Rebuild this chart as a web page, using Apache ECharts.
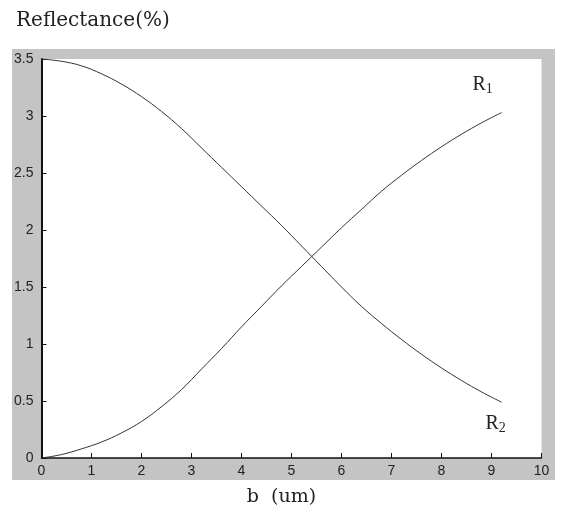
<!DOCTYPE html>
<html>
<head>
<meta charset="utf-8">
<script src="https://cdn.jsdelivr.net/npm/echarts@6/dist/echarts.min.js"></script>
<style>
  html, body { margin: 0; padding: 0; background: #fff; }
  #chart { width: 563px; height: 512px; }
</style>
</head>
<body>
<div id="chart"></div>
<script>
// b (um) sample positions
var bValues = [0, 0.4, 0.8, 1.2, 1.6, 2.0, 2.4, 2.8, 3.2, 3.6, 4.0, 4.4, 4.8,
	5.2, 5.6, 6.0, 6.4, 6.8, 7.2, 7.6, 8.0, 8.4, 8.8, 9.2];

// rising curve (labelled R1 at its end)
var risingR = [0.00, 0.03, 0.08, 0.14, 0.22, 0.32, 0.45, 0.60, 0.78, 0.96, 1.15, 1.33, 1.51,
	1.68, 1.85, 2.02, 2.18, 2.34, 2.48, 2.61, 2.73, 2.84, 2.94, 3.03];

// falling curve (labelled R2 at its end)
var fallingR = [3.50, 3.48, 3.44, 3.37, 3.28, 3.17, 3.04, 2.89, 2.72, 2.55, 2.38, 2.21, 2.04,
	1.86, 1.68, 1.50, 1.33, 1.18, 1.04, 0.91, 0.79, 0.68, 0.58, 0.49];

var xTicks = [0, 1, 2, 3, 4, 5, 6, 7, 8, 9, 10];
var yTicks = [0, 0.5, 1, 1.5, 2, 2.5, 3, 3.5];

function pairs(ys) {
	return bValues.map(function (b, i) { return [b, ys[i]]; });
}

var serifFont = '"DejaVu Serif", "Liberation Serif", serif';
var labelSerif = '"Liberation Serif", "DejaVu Serif", serif';
var tickFont = '"Liberation Sans", Arial, sans-serif';

var subRich = {
	r: { fontFamily: labelSerif, fontSize: 20, color: '#222' },
	s: { fontFamily: labelSerif, fontSize: 14, color: '#222', padding: [9, 0, 0, 0] }
};

var myChart = echarts.init(document.getElementById('chart'));
var option = {
	animation: false,
	backgroundColor: '#fff',
	title: [
		{
			text: 'Reflectance(%)',
			left: 11,
			top: 6,
			textStyle: { fontFamily: serifFont, fontSize: 20, fontWeight: 'normal', color: '#222' }
		},
		{
			text: 'b  (um)',
			left: 'center',
			top: 483,
			textStyle: { fontFamily: serifFont, fontSize: 19, fontWeight: 'normal', color: '#222' }
		}
	],
	graphic: {
		elements: [
			{
				type: 'rect',
				z: -100,
				silent: true,
				shape: { x: 12, y: 49, width: 543, height: 431 },
				style: { fill: '#c4c4c4' }
			}
		]
	},
	grid: {
		left: 41.5,
		right: 21.5,
		top: 59,
		bottom: 54,
		show: true,
		backgroundColor: '#fff',
		borderWidth: 0
	},
	xAxis: {
		type: 'value',
		min: xTicks[0],
		max: xTicks[xTicks.length - 1],
		interval: 1,
		splitLine: { show: false },
		axisLine: { lineStyle: { color: '#111', width: 1.5 } },
		axisTick: { inside: true, length: 5, lineStyle: { color: '#111' } },
		axisLabel: { fontFamily: tickFont, fontSize: 14, color: '#222', margin: 6 }
	},
	yAxis: {
		type: 'value',
		min: yTicks[0],
		max: yTicks[yTicks.length - 1],
		interval: 0.5,
		splitLine: { show: false },
		axisLine: { show: true, lineStyle: { color: '#111', width: 2 } },
		axisTick: { show: true, inside: true, length: 5, lineStyle: { color: '#111' } },
		axisLabel: { fontFamily: tickFont, fontSize: 14, color: '#222', margin: 8 }
	},
	series: [
		{
			name: 'R1',
			type: 'line',
			smooth: 0.4,
			symbol: 'none',
			data: pairs(risingR),
			lineStyle: { color: '#333', width: 1 },
			endLabel: {
				show: true,
				formatter: '{r|R}{s|1}',
				offset: [-37, -28],
				rich: subRich
			}
		},
		{
			name: 'R2',
			type: 'line',
			smooth: 0.4,
			symbol: 'none',
			data: pairs(fallingR),
			lineStyle: { color: '#333', width: 1 },
			endLabel: {
				show: true,
				formatter: '{r|R}{s|2}',
				offset: [-24, 22],
				rich: subRich
			}
		}
	]
};
myChart.setOption(option);
</script>
</body>
</html>
